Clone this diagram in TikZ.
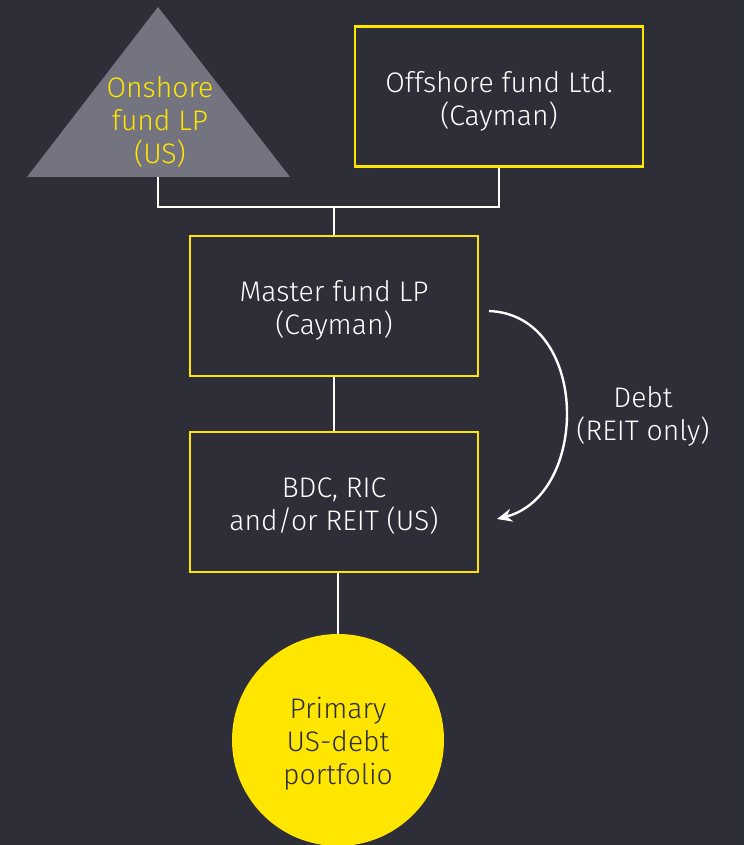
\documentclass[tikz,border=0pt]{standalone}
\usepackage{fontspec}
\setmainfont{Fira Sans Light}
\usetikzlibrary{arrows.meta}
\definecolor{bgdark}{HTML}{2E2E38}
\definecolor{eyyellow}{HTML}{FFE600}
\definecolor{eygray}{HTML}{747480}
\begin{document}
\begin{tikzpicture}[x=1pt,y=-1pt,
  lbl/.style={align=center,font=\fontsize{28.3}{33}\selectfont,inner sep=0pt},
  entity/.style={draw=eyyellow,line width=2.2pt,fill=bgdark,minimum width=288pt,minimum height=140pt},
  link/.style={draw=white,line width=2pt},
  flow/.style={draw=white,line width=2.4pt,-{Stealth[length=15pt,width=13pt]}}]
\fill[bgdark] (0,0) rectangle (744,845);
\useasboundingbox (0,0) rectangle (744,845);
% onshore triangle
\fill[eygray] (158,7) -- (290,177) -- (27,177) -- cycle;
\node[lbl,text=eyyellow] (on) at (160,122) {Onshore\\fund LP\\(US)};
\coordinate (onbot) at (158,177);
\node[entity] (off) at (499,96.5) {};
\node[lbl,text=white] (offt) at (499,101) {Offshore fund Ltd.\\(Cayman)};
\node[entity] (master) at (334,306) {};
\node[lbl,text=white] (mastert) at (334,310) {Master fund LP\\(Cayman)};
\node[entity] (bdc) at (334,502) {};
\node[lbl,text=white] (bdct) at (334,506) {BDC, RIC\\and/or REIT (US)};
\node[circle,fill=eyyellow,minimum size=212pt,inner sep=0pt] (port) at (338,740) {};
\node[lbl,text=bgdark] (portt) at (338,744) {Primary\\US-debt\\portfolio};
\coordinate (join) at (334,207);
\draw[link] (onbot) |- (join) -| (off.south);
\draw[link] (join) -- (master.north);
\draw[link] (master.south) -- (bdc.north);
\draw[link] (bdc.south -| port.north) -- (port.north);
\coordinate (fstart) at (489,311);
\coordinate (fend) at (497,519);
\draw[flow] (fstart) .. controls (590,315) and (590,495) .. (fend);
\node[lbl,text=white] (debt) at (643,416) {Debt\\(REIT only)};
\end{tikzpicture}
\end{document}
